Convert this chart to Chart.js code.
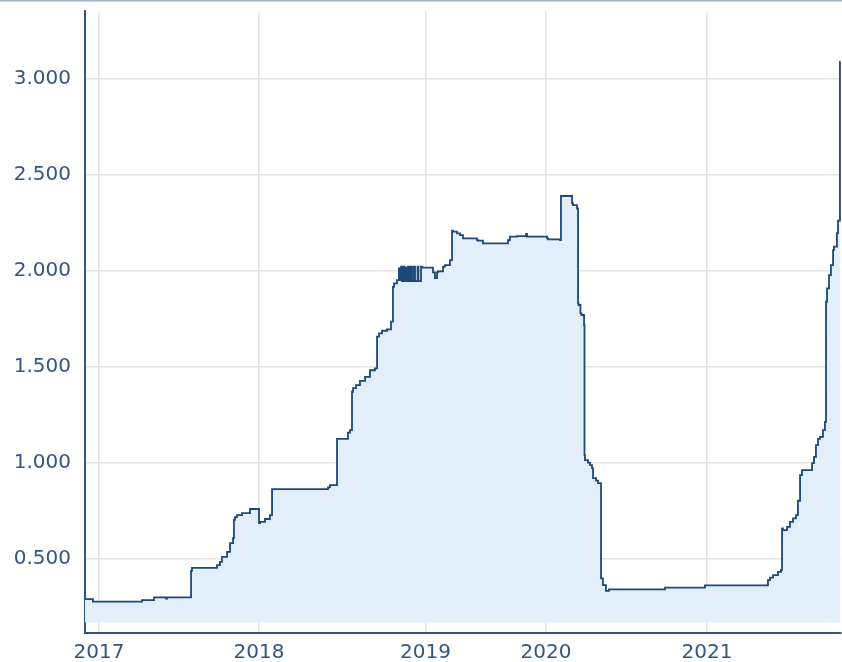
<!DOCTYPE html>
<html>
<head>
<meta charset="utf-8">
<script src="https://cdn.jsdelivr.net/npm/chart.js@4.4.1/dist/chart.umd.min.js"></script>
<style>
  html, body { margin: 0; padding: 0; background: #ffffff; }
  #wrap { width: 842px; height: 662px; position: relative; }
</style>
</head>
<body>
<div id="wrap"><canvas id="c" width="842" height="662"></canvas></div>
<script>
// Observation number (irregular observations, so years are not evenly spaced)
const obsIndex = [
  0, 5.3, 7.3, 38, 38.7, 46, 46.7, 54, 54.7, 55.3, 70.7, 71.3, 73.3, 88, 90, 91.3,
  94.7, 96.7, 98.7, 99.3, 100, 101.3, 104.7, 105.3, 110, 112, 116, 116.7, 120, 123.3,
  124.7, 125.3, 162, 163.3, 165.3, 168, 168.7, 175.3, 176.7, 178, 178.7, 180.7, 183.3,
  186.7, 190, 193.3, 194.7, 196, 198, 201.3, 204, 205.3, 206, 208, 209.3,
  210, 210.7, 211.3, 212, 213, 213.7, 214.7, 215.3, 216.3, 217.3, 218, 219.3, 220,
  221.7, 222.3, 224, 224.7,
  232, 233.3, 234.7, 235.3, 238.7, 240, 243.3, 244.7, 245.3, 248, 250, 252, 253.3,
  261.3, 262, 265.3, 266.7, 282, 283.3, 288, 294, 294.7, 295.3, 308, 308.7, 316.7,
  317.3, 318.7, 324.7, 325.3, 328, 328.7, 329, 330.3, 331, 332.7, 333, 333.3, 335.3,
  336.7, 338, 338.7, 340.7, 342, 344, 345.3, 347.3, 349.3, 351.3, 386.7, 388, 413.3,
  414.7, 455.3, 456.7, 458.7, 462, 464, 464.7, 465.3, 468, 470, 472, 474, 475.3,
  476.7, 478, 478.7, 484.7, 486, 487.3, 488.7, 490, 492, 493.3, 494, 494.7, 496,
  497.3, 498.7, 499.3, 501.3, 502, 503.3, 503.7
];
const rate = [
  0.287, 0.287, 0.274, 0.274, 0.282, 0.282, 0.297, 0.297, 0.290, 0.297, 0.297, 0.435, 0.450, 0.450, 0.465, 0.482,
  0.508, 0.534, 0.579, 0.605, 0.700, 0.715, 0.725, 0.736, 0.736, 0.757, 0.757, 0.684, 0.690, 0.705,
  0.725, 0.861, 0.861, 0.870, 0.882, 0.882, 1.122, 1.122, 1.155, 1.168, 1.368, 1.387, 1.403,
  1.425, 1.446, 1.480, 1.490, 1.655, 1.672, 1.686, 1.693, 1.733, 1.915, 1.933, 1.950,
  2.011, 1.950, 2.020, 1.945, 2.020, 1.945, 2.015, 1.945, 2.020, 1.945, 2.020, 1.945, 2.020,
  1.945, 2.020, 1.945, 2.020,
  2.015, 1.990, 1.960, 1.990, 1.995, 2.020, 2.028, 2.054, 2.207, 2.202, 2.193, 2.184, 2.167,
  2.167, 2.158, 2.155, 2.141, 2.141, 2.158, 2.176, 2.179, 2.190, 2.176, 2.176, 2.167, 2.162,
  2.158, 2.388, 2.388, 2.350, 2.341, 2.323, 1.830, 1.820, 1.776, 1.768, 1.715, 1.038, 1.012,
  0.999, 0.986, 0.970, 0.918, 0.905, 0.892, 0.396, 0.360, 0.330, 0.338, 0.338, 0.347, 0.347,
  0.359, 0.359, 0.387, 0.400, 0.413, 0.430, 0.440, 0.656, 0.647, 0.664, 0.690, 0.708, 0.725,
  0.800, 0.934, 0.960, 0.960, 0.996, 1.029, 1.090, 1.122, 1.133, 1.168, 1.211, 1.837, 1.907,
  1.976, 2.028, 2.106, 2.124, 2.195, 2.260, 3.087
];
const yearLabels = ['2017', '2018', '2019', '2020', '2021'];
const yearIndex = [9.3, 116, 227, 307.3, 414.7];
const yTickValues = [0.5, 1.0, 1.5, 2.0, 2.5, 3.0];

const axisColor = '#2f5683';
const textColor = '#34567f';
const gridColor = '#e4e4e4';

const topBorder = {
  id: 'topBorder',
  afterDraw(chart) {
    const ctx = chart.ctx;
    ctx.save();
    ctx.fillStyle = '#9fb4ca';
    ctx.fillRect(0, 0, chart.width, 1.5);
    ctx.restore();
  }
};

new Chart(document.getElementById('c'), {
  type: 'line',
  data: {
    datasets: [{
      data: obsIndex.map((x, i) => ({ x: x, y: rate[i] })),
      borderColor: '#1e4878',
      borderWidth: 1.8,
      backgroundColor: '#e2eef9',
      fill: { value: 0.166 },
      pointRadius: 0,
      stepped: 'after'
    }]
  },
  options: {
    responsive: false,
    animation: false,
    layout: { padding: { top: 11, right: 1, left: 0, bottom: 0 } },
    plugins: { legend: { display: false }, tooltip: { enabled: false } },
    scales: {
      x: {
        type: 'linear',
        min: 0,
        max: 504,
        afterBuildTicks(scale) { scale.ticks = yearIndex.map(v => ({ value: v })); },
        afterFit(scale) { scale.height = 29; scale.paddingLeft = 0; scale.paddingRight = 0; },
        grid: { color: gridColor, lineWidth: 1.5, drawTicks: false },
        border: { color: axisColor, width: 2 },
        ticks: {
          padding: 8,
          maxRotation: 0,
          autoSkip: false,
          color: textColor,
          font: { family: 'DejaVu Sans', size: 20 },
          callback: (v) => {
            const k = yearIndex.indexOf(v);
            return k >= 0 ? yearLabels[k] : '';
          }
        }
      },
      y: {
        type: 'linear',
        min: 0.111,
        max: 3.352,
        afterBuildTicks(scale) { scale.ticks = yTickValues.map(v => ({ value: v })); },
        afterFit(scale) { scale.width = 85; scale.paddingTop = 0; scale.paddingBottom = 0; },
        grid: { color: gridColor, lineWidth: 1.5, drawTicks: false },
        border: { color: axisColor, width: 2 },
        ticks: {
          padding: 14,
          color: textColor,
          font: { family: 'DejaVu Sans', size: 20 },
          callback: (v) => Number(v).toFixed(3)
        }
      }
    }
  },
  plugins: [topBorder]
});
</script>
</body>
</html>
